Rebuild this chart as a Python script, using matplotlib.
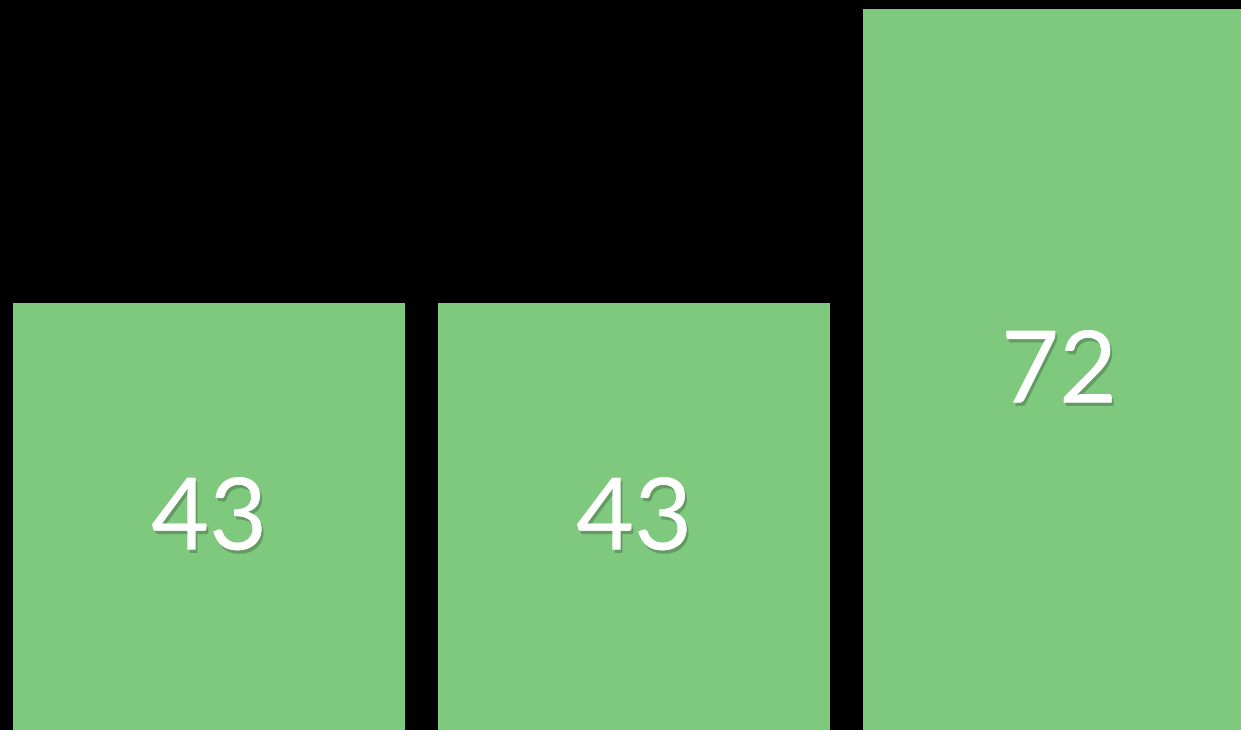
import matplotlib
matplotlib.use('Agg')
import matplotlib.pyplot as plt
import matplotlib.patheffects as pe

# Data
categories = ['A', 'B', 'C']
values = [43, 43, 72]
bar_color = '#7fc97f'


def main():
    fig = plt.figure(figsize=(12.41, 7.30), dpi=100, facecolor='black')
    ax = fig.add_axes([0, 0, 1, 1])
    ax.set_facecolor('black')

    x = list(range(len(categories)))
    ax.bar(x, values, width=0.922, color=bar_color)

    # Value labels in the middle of each bar
    for xi, v in zip(x, values):
        ax.text(xi, v / 2, str(v), ha='center', va='center', color='white',
                fontsize=72, family=['Lato', 'DejaVu Sans'],
                path_effects=[pe.withSimplePatchShadow(offset=(1.5, -2.5), shadow_rgbFace='black', alpha=0.22),
                              pe.Normal()])

    # baseline sits a little below the bottom edge of the picture
    ax.set_xlim(-0.492, 2.428)
    ax.set_ylim(0.89, 72.88)
    ax.axis('off')

    fig.savefig('out.png', dpi=100, facecolor='black')


if __name__ == '__main__':
    main()
